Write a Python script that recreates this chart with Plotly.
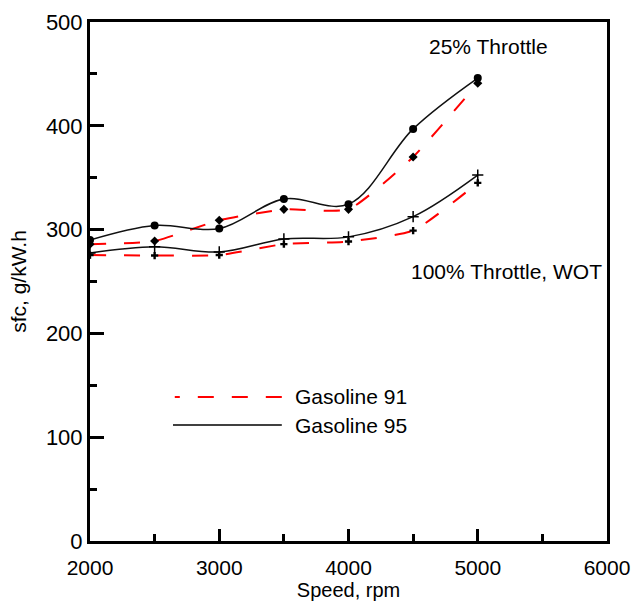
import plotly.graph_objects as go

speed = [2000, 2500, 3000, 3500, 4000, 4500, 5000]

# 25% throttle
sfc_25_g95 = [290, 304, 301, 329.5, 324.5, 397, 446]
sfc_25_g91 = [286, 289, 309, 319.5, 319.5, 370, 441]
# 100% throttle, WOT
sfc_wot_g95 = [277.5, 283.5, 278.5, 291, 293, 312.5, 352.5]
sfc_wot_g91 = [275.5, 275, 275.5, 286, 288.5, 299, 345]

legend_labels = ["Gasoline 91", "Gasoline 95"]
annot_25 = "25% Throttle"
annot_wot = "100% Throttle, WOT"

FONT = "Liberation Sans, Arial, sans-serif"
RED = "#ff0000"

fig = go.Figure()

fig.add_trace(go.Scatter(
    x=speed, y=sfc_25_g91, mode="lines+markers",
    line=dict(color=RED, width=2, dash="16px,18px", shape="spline", smoothing=0.5),
    marker=dict(symbol="diamond", size=7, color="black"), showlegend=False))
fig.add_trace(go.Scatter(
    x=speed, y=sfc_wot_g91, mode="lines+markers",
    line=dict(color=RED, width=2, dash="16px,18px", shape="spline", smoothing=0.5),
    marker=dict(symbol="cross", size=6, color="black"), showlegend=False))
fig.add_trace(go.Scatter(
    x=speed, y=sfc_25_g95, mode="lines+markers",
    line=dict(color="#111111", width=1.5, shape="spline", smoothing=1.0),
    marker=dict(symbol="circle", size=8, color="black"), showlegend=False))
fig.add_trace(go.Scatter(
    x=speed, y=sfc_wot_g95, mode="lines+markers",
    line=dict(color="#111111", width=1.5, shape="spline", smoothing=1.0),
    marker=dict(symbol="cross-thin", size=8, color="black",
                line=dict(color="black", width=1.5)), showlegend=False))

# manual legend (long line samples as in the reference)
fig.add_shape(type="line", xref="paper", yref="paper", x0=0.371, x1=0.164,
              y0=0.2775, y1=0.2775, line=dict(color=RED, width=2, dash="16px,18px"))
fig.add_shape(type="line", xref="paper", yref="paper", x0=0.1605, x1=0.371,
              y0=0.2235, y1=0.2235, line=dict(color="black", width=1.5))
for lbl, yy in zip(legend_labels, [0.2775, 0.2235]):
    fig.add_annotation(text=lbl, xref="paper", yref="paper", x=0.392, y=yy,
                       xanchor="left", yanchor="middle", showarrow=False,
                       font=dict(family=FONT, size=21, color="black"))

fig.add_annotation(text=annot_25, xref="paper", yref="paper", x=0.770, y=0.952,
                   xanchor="center", yanchor="middle", showarrow=False,
                   font=dict(family=FONT, size=21, color="black"))
fig.add_annotation(text=annot_wot, xref="paper", yref="paper", x=0.805, y=0.520,
                   xanchor="center", yanchor="middle", showarrow=False,
                   font=dict(family=FONT, size=21, color="black"))

axis_common = dict(
    showline=True, linecolor="black", linewidth=3, mirror=True,
    showgrid=False, zeroline=False, automargin=False,
    ticks="inside", tickcolor="black", tickwidth=3,
)

fig.update_xaxes(
    range=[2000, 6000], tickmode="linear", tick0=2000, dtick=1000, ticklen=12,
    ticklabelstandoff=6,
    tickfont=dict(family=FONT, size=21, color="black"),
    minor=dict(dtick=500, ticks="inside", ticklen=7, tickwidth=3, tickcolor="black"),
    title=dict(text="Speed, rpm", font=dict(family=FONT, size=20, color="black"), standoff=9),
    **axis_common)
fig.update_yaxes(
    range=[0, 500], tickmode="linear", tick0=0, dtick=100, ticklen=14,
    tickfont=dict(family=FONT, size=22, color="black"),
    minor=dict(dtick=50, ticks="inside", ticklen=7, tickwidth=3, tickcolor="black"),
    title=dict(text="sfc, g/kW.h", font=dict(family=FONT, size=21, color="black"), standoff=14),
    **axis_common)

fig.update_layout(
    width=633, height=601,
    margin=dict(l=90, r=26, t=22, b=60),
    paper_bgcolor="white", plot_bgcolor="white",
    font=dict(family=FONT, color="black"),
)

fig.write_html("out.html")
